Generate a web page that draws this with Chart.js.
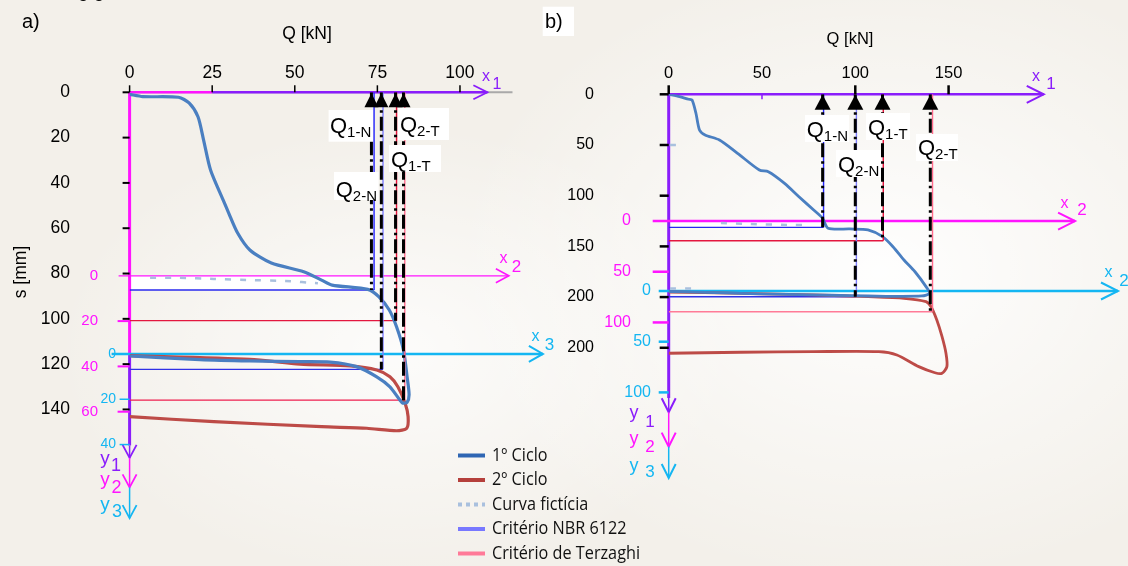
<!DOCTYPE html>
<html>
<head>
<meta charset="utf-8">
<script src="https://cdn.jsdelivr.net/npm/chart.js@4.4.1/dist/chart.umd.min.js"></script>
<style>
html, body { margin: 0; padding: 0; }
body {
  width: 1128px; height: 566px; overflow: hidden; position: relative;
  background:
    radial-gradient(ellipse 38% 55% at 78% 48%, rgba(255,255,255,0.95) 0%, rgba(255,255,255,0) 100%),
    radial-gradient(ellipse 30% 40% at 35% 62%, rgba(255,255,255,0.8) 0%, rgba(255,255,255,0) 100%),
    #f3f0ea;
}
canvas { position: absolute; left: 0; top: 0; }
</style>
</head>
<body>
<canvas id="graficoA" width="1128" height="566"></canvas>
<canvas id="graficoB" width="1128" height="566"></canvas>
<script>
// ---------------- painel a) ----------------
const qTicksA = [0, 25, 50, 75, 100];
const sTicksA = [0, 20, 40, 60, 80, 100, 120, 140];
const s2TicksA = [0, 20, 40, 60];
const s3TicksA = [0, 20, 40];
const origemY2A = 81;     // zero do eixo y2 lido em s
const origemY3A = 115.5;  // zero do eixo y3 lido em s

// [Q kN, s mm]
const ciclo1A = [[0,0.9],[4.0,1.9],[14.8,2.2],[18.0,4.7],[20.7,10.8],[22.4,21.1],[24.5,34.3],[28.3,47.5],
  [30.0,53.3],[32.7,62.1],[36.4,69.6],[42.9,75.4],[52.7,79.2],[58.1,82.9],[61.3,85.1],[72.1,87.0],
  [75.4,90.2],[78.6,96.1],[80.8,103.5],[82.9,113.8],[84.0,125.6],[84.6,133.5],[84.0,136.8],[82.7,137.2],
  [81.8,135.8],[78.8,130.0],[74.8,125.6],[68.7,121.1],[60.7,119.1],[51.6,118.9],[36.4,118.6],[21.3,118.0],[0,116.4]];
const ciclo2A = [[0,116.2],[36.4,117.9],[51.6,120.0],[66.7,120.8],[74.8,122.6],[78.8,125.6],[81.2,130.0],
  [83.4,137.3],[84.3,143.2],[83.9,148.3],[80.8,149.4],[71.8,148.3],[58.1,147.6],[25.5,145.4],[0,143.2]];
const ficticiaA = [[6.2,81.9],[14.8,81.9],[25.5,82.4],[36.4,82.9],[47.2,83.3],[57.0,84.3]];

const nomesCrit = ['1-N', '2-N', '1-T', '2-T'];
const qCritA = [73.2, 76.2, 80.5, 82.9];
const sCritA = [87.3, 122.3, 100.8, 135.9];
const qLinhaCritA = [74.0, 76.7, 80.8, 83.3];

// ---------------- painel b) ----------------
const qTicksB = [0, 50, 100, 150];
const sTicksB = [0, 50, 100, 150, 200, 250];
const sRotulosB = ['0', '50', '100', '150', '200', '200'];
const s2TicksB = [0, 50, 100];
const s3TicksB = [0, 50, 100];
const origemY2B = 125;
const origemY3B = 194;

const ciclo1B = [[0,0],[5.8,2.4],[10.7,4.9],[12.5,5.6],[14.6,18.7],[16.5,35.2],[19.5,40.1],[27.2,45.1],
  [36.9,58.2],[48.6,74.7],[53.4,76.3],[62.1,87.8],[69.8,101.0],[77.7,114.1],[82.5,122.3],[85.4,132.1],
  [97.1,132.8],[106.8,133.8],[114.6,140.4],[120.2,150.3],[126.1,163.4],[132.0,175.0],[137.9,189.7],
  [139.8,196.3],[135.7,198.9],[116.5,199.2],[97.1,198.6],[77.7,197.8],[48.4,196.8],[19.5,195.3],[0,194.5]];
const ciclo2B = [[0,195.0],[38.7,196.3],[77.7,197.9],[106.8,199.6],[126.1,201.2],[137.9,204.5],[140.6,209.5],
  [143.7,222.6],[146.5,239.1],[148.6,255.4],[149.1,268.6],[146.5,275.1],[142.7,274.6],[134.0,268.6],
  [122.3,257.1],[112.6,253.8],[77.7,253.8],[38.7,254.4],[0,255.4]];
const ficticiaB1 = [[28.0,126.9],[43.6,127.9],[65.0,128.9],[75.7,128.9]];
const ficticiaB2 = [[0.7,191.5],[13.6,191.5]];
const ficticiaB3 = [[0.5,50],[4.5,50]];

const qCritB = [82.5, 100.0, 114.6, 140.2];
const sCritB = [131.2, 199.6, 144.4, 214.4];
const qLinhaCritB = [83.0, 100.6, 115.0, 141.4];

const legendaNomes = ['1º Ciclo', '2º Ciclo', 'Curva fictícia', 'Critério NBR 6122', 'Critério de Terzaghi'];

// cores
const ROXO = '#8a1dfb';
const MAGENTA = '#ff14ff';
const CIANO = '#14b6f2';
const AZUL_C1 = '#4a7fc1';
const VERM_C2 = '#bd4b47';
const FICT = '#a9c0de';
const corVertical = ['#2222ff', '#7d7dff', '#e8143c', '#ff6b8c'];
const corHorizA = ['#2828ee', '#3030e6', '#e3173f', '#ee1f4f'];
const corHorizB = ['#2828ee', '#3030e6', '#e3173f', '#ff7b97'];
const F = '"Liberation Sans", Arial, sans-serif';
const PRETO = '#000';

function pontos(pares) { return pares.map(p => ({ x: p[0], y: p[1] })); }

function linha(ctx, x1, y1, x2, y2, cor, larg) {
  ctx.save();
  ctx.strokeStyle = cor; ctx.lineWidth = larg;
  ctx.beginPath(); ctx.moveTo(x1, y1); ctx.lineTo(x2, y2); ctx.stroke();
  ctx.restore();
}
function setaDir(ctx, x, y, comp, meia, cor, larg) {
  ctx.save();
  ctx.strokeStyle = cor; ctx.lineWidth = larg;
  ctx.beginPath(); ctx.moveTo(x - comp, y - meia); ctx.lineTo(x, y); ctx.lineTo(x - comp, y + meia); ctx.stroke();
  ctx.restore();
}
function setaBaixo(ctx, x, y, comp, meia, cor, larg) {
  ctx.save();
  ctx.strokeStyle = cor; ctx.lineWidth = larg;
  ctx.beginPath(); ctx.moveTo(x - meia, y - comp); ctx.lineTo(x, y); ctx.lineTo(x + meia, y - comp); ctx.stroke();
  ctx.restore();
}
function texto(ctx, t, x, y, fonte, cor, alinh, base) {
  ctx.save();
  ctx.font = fonte; ctx.fillStyle = cor;
  ctx.textAlign = alinh || 'left'; ctx.textBaseline = base || 'middle';
  ctx.fillText(t, x, y);
  ctx.restore();
}
function triangulo(ctx, x, y, alt, meia) {
  ctx.save();
  ctx.fillStyle = '#000';
  ctx.beginPath(); ctx.moveTo(x, y); ctx.lineTo(x + meia, y + alt); ctx.lineTo(x - meia, y + alt); ctx.closePath(); ctx.fill();
  ctx.restore();
}
// rótulo Q com índice, sobre caixa branca
function rotuloQ(ctx, sub, caixa, xq, base) {
  ctx.save();
  ctx.fillStyle = '#fff';
  ctx.fillRect(caixa[0], caixa[1], caixa[2], caixa[3]);
  ctx.fillStyle = '#000';
  ctx.textBaseline = 'alphabetic'; ctx.textAlign = 'left';
  ctx.font = '22px ' + F;
  ctx.fillText('Q', xq, base);
  const w = ctx.measureText('Q').width;
  ctx.font = '15px ' + F;
  ctx.fillText(sub, xq + w, base + 4);
  ctx.restore();
}

function datasetsPainel(c1, c2, fict, qCrit, sCrit, qLinha, corHoriz, largCurva) {
  const ds = [];
  qCrit.forEach((q, i) => ds.push({
    data: pontos([[q, 0], [q, sCrit[i]]]), borderColor: '#000', borderWidth: 3,
    borderDash: [14, 4, 2.5, 4], showLine: true, pointRadius: 0
  }));
  qLinha.forEach((q, i) => ds.push({
    data: pontos([[q, 0], [q, sCrit[i]]]), borderColor: corVertical[i], borderWidth: 1.4,
    showLine: true, pointRadius: 0
  }));
  ds.push({ data: pontos(c1), borderColor: AZUL_C1, borderWidth: largCurva, showLine: true, pointRadius: 0, tension: 0.25 });
  ds.push({ data: pontos(c2), borderColor: VERM_C2, borderWidth: largCurva, showLine: true, pointRadius: 0, tension: 0.25 });
  fict.forEach(f => ds.push({ data: pontos(f), borderColor: FICT, borderWidth: 2.5, borderDash: [6, 9],
    showLine: true, pointRadius: 0, tension: 0.2 }));
  qCrit.forEach((q, i) => ds.push({
    data: pontos([[0, sCrit[i]], [qLinha[i], sCrit[i]]]), borderColor: corHoriz[i], borderWidth: 1.4,
    showLine: true, pointRadius: 0
  }));
  return ds;
}

const decoracaoA = {
  id: 'decoracaoA',
  beforeDatasetsDraw(chart) {
    const ctx = chart.ctx, xs = chart.scales.x, ys = chart.scales.y;
    const X = v => xs.getPixelForValue(v), Y = v => ys.getPixelForValue(v);
    const x0 = X(0), y0 = Y(0);

    // resto da linha de texto anterior, cortado no topo
    texto(ctx, 'g g', 78, -3, '19px ' + F, PRETO, 'left', 'alphabetic');

    ctx.fillStyle = '#ffffff';
    ctx.fillRect(x0, Y(origemY2A), X(qCritA[0]) - x0, Y(sCritA[0]) - Y(origemY2A));

    // eixo x1
    linha(ctx, x0, y0, chart.chartArea.right, y0, '#a9a9a9', 2);
    linha(ctx, x0, y0, X(25), y0, MAGENTA, 2.5);
    linha(ctx, X(25), y0, X(108.3), y0, ROXO, 2.5);
    setaDir(ctx, X(108.3), y0, 14, 7, ROXO, 1.8);
    qTicksA.forEach(v => {
      linha(ctx, X(v), y0 - 7, X(v), y0, '#000', 1.5);
      texto(ctx, String(v), X(v), 73.5, '17.5px ' + F, PRETO, 'center');
    });
    texto(ctx, 'Q [kN]', 307, 34, '17.5px ' + F, PRETO, 'center');
    texto(ctx, 'x', 486, 77, '16px ' + F, ROXO, 'center');
    texto(ctx, '1', 497, 85, '16px ' + F, ROXO, 'center');

    // eixo y (y1, y2, y3)
    linha(ctx, x0, y0, x0, Y(origemY3A), MAGENTA, 3);
    linha(ctx, x0, Y(origemY3A), x0, Y(155.9), ROXO, 3);
    linha(ctx, x0, Y(155.9), x0, Y(161.4), ROXO, 1.5);
    setaBaixo(ctx, x0, Y(161.4), 13, 7, ROXO, 1.8);
    linha(ctx, x0, Y(161.4), x0, Y(174.4), MAGENTA, 1.5);
    setaBaixo(ctx, x0, Y(174.4), 13, 7, MAGENTA, 1.8);
    linha(ctx, x0, Y(174.4), x0, Y(188), CIANO, 1.5);
    setaBaixo(ctx, x0, Y(188), 13, 7, CIANO, 1.8);
    texto(ctx, 'y', 105, 459, '19px ' + F, ROXO, 'center');
    texto(ctx, '1', 116, 466, '18px ' + F, ROXO, 'center');
    texto(ctx, 'y', 105, 480, '19px ' + F, MAGENTA, 'center');
    texto(ctx, '2', 116.5, 488, '18px ' + F, MAGENTA, 'center');
    texto(ctx, 'y', 105, 505, '19px ' + F, CIANO, 'center');
    texto(ctx, '3', 117, 512.5, '18px ' + F, CIANO, 'center');

    sTicksA.forEach(v => {
      linha(ctx, x0 - 7, Y(v), x0, Y(v), '#000', 2);
      texto(ctx, String(v), 70, Y(v), '17.5px ' + F, PRETO, 'right');
    });
    s2TicksA.forEach(v => {
      if (v > 0) linha(ctx, x0 - 12, Y(origemY2A + v), x0, Y(origemY2A + v), MAGENTA, 2);
      texto(ctx, String(v), 98, Y(origemY2A + v), '15px ' + F, MAGENTA, 'right');
    });
    linha(ctx, x0 - 11, Y(origemY2A), X(114.8), Y(origemY2A), MAGENTA, 1.3);
    setaDir(ctx, X(114.8), Y(origemY2A), 13, 7, MAGENTA, 1.6);
    texto(ctx, 'x', 503.5, 259, '16px ' + F, MAGENTA, 'center');
    texto(ctx, '2', 516.5, 267.5, '17px ' + F, MAGENTA, 'center');

    s3TicksA.forEach(v => {
      if (v > 0) linha(ctx, x0 - 10, Y(origemY3A + v), x0, Y(origemY3A + v), CIANO, 1.5);
      texto(ctx, String(v), 116, Y(origemY3A + v), '14px ' + F, CIANO, 'right');
    });
    linha(ctx, x0 - 18, Y(origemY3A), X(125.1), Y(origemY3A), CIANO, 2.5);
    setaDir(ctx, X(125.1), Y(origemY3A), 14, 8, CIANO, 2);
    texto(ctx, 'x', 535.5, 337, '16px ' + F, CIANO, 'center');
    texto(ctx, '3', 549.5, 345, '17px ' + F, CIANO, 'center');

    ctx.save();
    ctx.translate(21, 272); ctx.rotate(-Math.PI / 2);
    texto(ctx, 's [mm]', 0, 0, '17.5px ' + F, PRETO, 'center');
    ctx.restore();

    texto(ctx, 'a)', 22, 28, '20px ' + F, PRETO, 'left', 'alphabetic');
  },
  afterDatasetsDraw(chart) {
    const ctx = chart.ctx, xs = chart.scales.x, ys = chart.scales.y;
    const y0 = ys.getPixelForValue(0);
    qCritA.forEach(q => triangulo(ctx, xs.getPixelForValue(q), y0 + 1, 14, 7));
    rotuloQ(ctx, nomesCrit[0], [328.6, 110, 44.4, 31.7], 330, 133.3);
    rotuloQ(ctx, nomesCrit[3], [398, 108, 51, 32], 400, 131.7);
    rotuloQ(ctx, nomesCrit[2], [389, 145, 52, 27], 391, 166.7);
    rotuloQ(ctx, nomesCrit[1], [334, 172, 44.6, 28], 335.7, 196.7);

    // legenda
    const corAmostra = ['#2f66b3', '#b5403c', FICT, '#7878ff', '#ff7a98'];
    ctx.save();
    ctx.font = '18px "Open Sans", sans-serif';
    const k = 148 / ctx.measureText(legendaNomes[4]).width;
    ctx.restore();
    legendaNomes.forEach((nome, i) => {
      const yl = 455.5 + i * 24.5;
      ctx.save();
      ctx.strokeStyle = corAmostra[i]; ctx.lineWidth = 4;
      if (i === 2) ctx.setLineDash([4, 4]);
      ctx.beginPath(); ctx.moveTo(458, yl); ctx.lineTo(485, yl); ctx.stroke();
      ctx.restore();
      ctx.save();
      ctx.translate(492, yl); ctx.scale(k, 1);
      texto(ctx, nome, 0, 0, '18px "Open Sans", sans-serif', '#111', 'left');
      ctx.restore();
    });
  }
};

const decoracaoB = {
  id: 'decoracaoB',
  beforeDatasetsDraw(chart) {
    const ctx = chart.ctx, xs = chart.scales.x, ys = chart.scales.y;
    const X = v => xs.getPixelForValue(v), Y = v => ys.getPixelForValue(v);
    const x0 = X(0), y0 = Y(0);

    ctx.fillStyle = '#ffffff';
    ctx.fillRect(x0, Y(origemY2B), X(qCritB[0]) - x0, Y(sCritB[0]) - Y(origemY2B));

    // eixo x1
    linha(ctx, x0, y0, X(201), y0, ROXO, 2.5);
    setaDir(ctx, X(201), y0, 17, 8.5, ROXO, 2);
    qTicksB.forEach(v => {
      if (v === 50) linha(ctx, X(v), y0, X(v), y0 + 5, ROXO, 1.5);
      else linha(ctx, X(v), y0 - 9, X(v), y0, '#000', 2.5);
      texto(ctx, String(v), X(v), 73.5, '16.5px ' + F, PRETO, 'center');
    });
    texto(ctx, 'Q [kN]', 850, 39, '16.5px ' + F, PRETO, 'center');
    texto(ctx, 'x', 1036, 77, '16px ' + F, ROXO, 'center');
    texto(ctx, '1', 1051, 84, '17px ' + F, ROXO, 'center');

    // eixo y
    linha(ctx, x0, y0, x0, Y(299.5), ROXO, 3);
    linha(ctx, x0, Y(299.5), x0, Y(313.6), ROXO, 1.5);
    setaBaixo(ctx, x0, Y(313.6), 14, 7, ROXO, 2);
    linha(ctx, x0, Y(313.6), x0, Y(347.5), MAGENTA, 1.5);
    setaBaixo(ctx, x0, Y(347.5), 14, 7, MAGENTA, 2);
    linha(ctx, x0, Y(347.5), x0, Y(378.4), CIANO, 1.5);
    setaBaixo(ctx, x0, Y(378.4), 14, 7, CIANO, 2);
    texto(ctx, 'y', 634, 413, '18px ' + F, ROXO, 'center');
    texto(ctx, '1', 650, 422.5, '17px ' + F, ROXO, 'center');
    texto(ctx, 'y', 634, 439, '18px ' + F, MAGENTA, 'center');
    texto(ctx, '2', 650, 447, '17px ' + F, MAGENTA, 'center');
    texto(ctx, 'y', 634, 466, '18px ' + F, CIANO, 'center');
    texto(ctx, '3', 650, 472.5, '17px ' + F, CIANO, 'center');

    sTicksB.forEach((v, i) => {
      linha(ctx, x0 - 9, Y(v), x0, Y(v), '#000', 2.5);
      texto(ctx, sRotulosB[i], 594, Y(v), '16px ' + F, PRETO, 'right');
    });
    s2TicksB.forEach(v => {
      if (v > 0) linha(ctx, x0 - 16, Y(origemY2B + v), x0, Y(origemY2B + v), MAGENTA, 2.5);
      texto(ctx, String(v), 631, Y(origemY2B + v), '16px ' + F, MAGENTA, 'right');
    });
    linha(ctx, x0 - 16, Y(origemY2B), X(217.8), Y(origemY2B), MAGENTA, 2.5);
    setaDir(ctx, X(217.8), Y(origemY2B), 17, 8.5, MAGENTA, 2);
    texto(ctx, 'x', 1064.5, 204, '16px ' + F, MAGENTA, 'center');
    texto(ctx, '2', 1082, 210, '17px ' + F, MAGENTA, 'center');

    s3TicksB.forEach(v => {
      if (v > 0) linha(ctx, x0 - 10, Y(origemY3B + v), x0, Y(origemY3B + v), CIANO, 2.5);
      texto(ctx, String(v), 651, Y(origemY3B + v), '16px ' + F, CIANO, 'right');
    });
    linha(ctx, x0 - 10, Y(origemY3B), X(240.8), Y(origemY3B), CIANO, 2.5);
    setaDir(ctx, X(240.8), Y(origemY3B), 17, 8.5, CIANO, 2);
    texto(ctx, 'x', 1108.5, 273, '16px ' + F, CIANO, 'center');
    texto(ctx, '2', 1124, 281, '17px ' + F, CIANO, 'center');

    ctx.fillStyle = '#ffffff';
    ctx.fillRect(542.7, 6.7, 31.3, 29.3);
    texto(ctx, 'b)', 545, 28, '20px ' + F, PRETO, 'left', 'alphabetic');
  },
  afterDatasetsDraw(chart) {
    const ctx = chart.ctx, xs = chart.scales.x, ys = chart.scales.y;
    const y0 = ys.getPixelForValue(0);
    qCritB.forEach(q => triangulo(ctx, xs.getPixelForValue(q), y0 + 0.5, 15, 8));
    rotuloQ(ctx, nomesCrit[0], [805, 115, 44, 27], 806.7, 136.7);
    rotuloQ(ctx, nomesCrit[2], [866, 113, 44, 27], 868, 135);
    rotuloQ(ctx, nomesCrit[1], [836, 150, 45, 27], 838, 171.7);
    rotuloQ(ctx, nomesCrit[3], [916, 134, 42, 27], 918, 155);
  }
};

function criarGrafico(id, datasets, area, xMax, yMax, plugin) {
  return new Chart(document.getElementById(id), {
    type: 'scatter',
    data: { datasets: datasets },
    options: {
      responsive: false, animation: false, devicePixelRatio: 1, events: [],
      layout: { padding: { left: area[0], top: area[1], right: 1128 - area[2], bottom: 566 - area[3] } },
      plugins: { legend: { display: false }, tooltip: { enabled: false } },
      scales: {
        x: { type: 'linear', min: 0, max: xMax, display: false },
        y: { type: 'linear', min: 0, max: yMax, reverse: true, display: false }
      }
    },
    plugins: [plugin]
  });
}

criarGrafico('graficoA',
  datasetsPainel(ciclo1A, ciclo2A, [ficticiaA], qCritA, sCritA, qLinhaCritA, corHorizA, 3.2),
  [129.6, 92.3, 512.5, 520], 115.9, 188.8, decoracaoA);
criarGrafico('graficoB',
  datasetsPainel(ciclo1B, ciclo2B, [ficticiaB1, ficticiaB2, ficticiaB3], qCritB, sCritB, qLinhaCritB, corHorizB, 2.8),
  [668.7, 94.3, 1118, 480], 240.8, 380.4, decoracaoB);
</script>
</body>
</html>
